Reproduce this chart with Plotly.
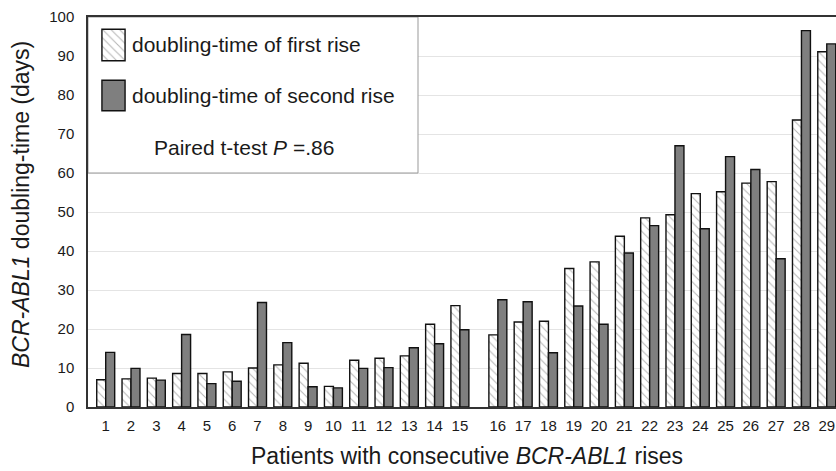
import plotly.graph_objects as go

# ---- data ----
patients = [str(i) for i in range(1, 30)]
# x positions of patient groups (a wider gap separates patients 15 and 16)
positions = [1, 2, 3, 4, 5, 6, 7, 8, 9, 10, 11, 12, 13, 14, 15,
             16.5, 17.5, 18.5, 19.5, 20.5, 21.5, 22.5, 23.5, 24.5, 25.5, 26.5, 27.5, 28.5, 29.5]
first_rise = [7.0, 7.2, 7.4, 8.6, 8.6, 9.0, 10.0, 10.8, 11.2, 5.3, 12.0, 12.5, 13.1, 21.2, 26.0,
              18.5, 21.8, 22.0, 35.5, 37.2, 43.8, 48.5, 49.3, 54.7, 55.2, 57.4, 57.8, 73.6, 91.1]
second_rise = [14.0, 9.9, 6.9, 18.6, 6.0, 6.6, 26.8, 16.5, 5.2, 4.9, 9.9, 10.1, 15.2, 16.2, 19.8,
               27.5, 27.0, 13.9, 25.9, 21.2, 39.5, 46.5, 67.0, 45.7, 64.2, 60.9, 38.0, 96.5, 93.1]
y_ticks = [0, 10, 20, 30, 40, 50, 60, 70, 80, 90, 100]
legend_names = ["doubling-time of first rise", "doubling-time of second rise"]
stat_text = "Paired t-test <i>P</i> =.86"

DARK = "#7f7f7f"
HATCH = dict(shape="\\", fgcolor="#6e6e6e", bgcolor="white", size=6, solidity=0.18)
FONT = "Liberation Sans, Arial, sans-serif"
EDGE = dict(color="#111111", width=1.4)

fig = go.Figure()
fig.add_trace(go.Bar(x=positions, y=first_rise, name=legend_names[0],
                     marker=dict(color="white", pattern=HATCH, line=EDGE),
                     showlegend=False))
fig.add_trace(go.Bar(x=positions, y=second_rise, name=legend_names[1],
                     marker=dict(color=DARK, line=EDGE),
                     showlegend=False))

# legend swatches drawn as tiny bar subplots
fig.add_trace(go.Bar(x=[0], y=[1], width=[1], xaxis="x2", yaxis="y2", showlegend=False,
                     hoverinfo="skip",
                     marker=dict(color="white", pattern=HATCH, line=EDGE)))
fig.add_trace(go.Bar(x=[0], y=[1], width=[1], xaxis="x3", yaxis="y3", showlegend=False,
                     hoverinfo="skip",
                     marker=dict(color=DARK, line=EDGE)))

W, H = 836, 471
L, R, T, B = 88, 0, 17, 64
pw, ph = W - L - R, H - T - B

def px_x(p):
    return (p - L) / pw

def px_y(p):
    return (H - B - p) / ph

sw = dict(visible=False, fixedrange=True)
fig.update_layout(
    width=W, height=H,
    margin=dict(l=L, r=R, t=T, b=B),
    paper_bgcolor="white", plot_bgcolor="white",
    barmode="group", bargap=0.29, bargroupgap=0,
    font=dict(family=FONT, color="#1a1a1a"),
    xaxis=dict(range=[0.30, 0.30 + pw / 25.3], tickvals=positions, ticktext=patients,
               showgrid=False, zeroline=False, showline=True, mirror=True,
               linecolor="#333333", linewidth=1.5, ticks="outside", ticklen=4,
               tickcolor="rgba(0,0,0,0)",
               tickfont=dict(size=15, family=FONT, color="#1a1a1a")),
    yaxis=dict(range=[0, 100], tickvals=y_ticks, showgrid=True, gridcolor="#e4e4e4",
               gridwidth=1, zeroline=False, showline=True, linecolor="#333333",
               linewidth=1.5, ticks="", ticklabelstandoff=9,
               tickfont=dict(size=15, family=FONT, color="#1a1a1a")),
    xaxis2=dict(domain=[px_x(101), px_x(126)], range=[-0.54, 0.54], anchor="y2", **sw),
    yaxis2=dict(domain=[px_y(62), px_y(28)], range=[-0.04, 1.04], anchor="x2", **sw),
    xaxis3=dict(domain=[px_x(101), px_x(126)], range=[-0.54, 0.54], anchor="y3", **sw),
    yaxis3=dict(domain=[px_y(112), px_y(79)], range=[-0.04, 1.04], anchor="x3", **sw),
)

# legend box
fig.add_shape(type="rect", xref="x", yref="y", x0=0.30, x1=0.30 + (418 - L) / 25.3,
              y0=60, y1=100, fillcolor="white", line=dict(color="#999999", width=1),
              layer="between")

fig.add_annotation(x=px_x(130), y=px_y(45), xref="paper", yref="paper", xanchor="left",
                   yanchor="middle", text=legend_names[0], showarrow=False,
                   font=dict(size=21, family=FONT, color="#1a1a1a"))
fig.add_annotation(x=px_x(130), y=px_y(96), xref="paper", yref="paper", xanchor="left",
                   yanchor="middle", text=legend_names[1], showarrow=False,
                   font=dict(size=21, family=FONT, color="#1a1a1a"))
fig.add_annotation(x=px_x(152), y=px_y(147), xref="paper", yref="paper", xanchor="left",
                   yanchor="middle", text=stat_text, showarrow=False,
                   font=dict(size=21, family=FONT, color="#1a1a1a"))

# axis titles
fig.add_annotation(x=px_x(467), y=px_y(456), xref="paper", yref="paper",
                   xanchor="center", yanchor="middle", showarrow=False,
                   text="Patients with consecutive <i>BCR-ABL1</i> rises",
                   font=dict(size=23, family=FONT, color="#1a1a1a"))
fig.add_annotation(x=px_x(21), y=px_y(205), xref="paper", yref="paper",
                   xanchor="center", yanchor="middle", showarrow=False, textangle=-90,
                   text="<i>BCR-ABL1</i> doubling-time (days)",
                   font=dict(size=23, family=FONT, color="#1a1a1a"))

fig.write_html("out.html", config={"displayModeBar": False},
               post_script="document.body.style.margin='0';document.body.style.overflow='hidden';")
